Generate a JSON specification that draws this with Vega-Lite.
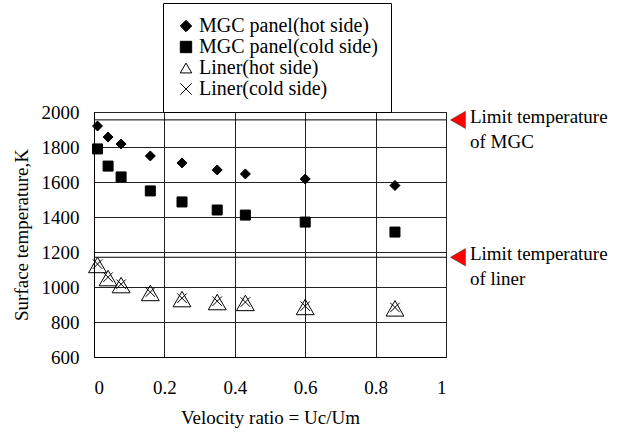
{
  "$schema": "https://vega.github.io/schema/vega-lite/v6.json",
  "width": 352,
  "height": 245,
  "autosize": {"type": "none"},
  "padding": {"left": 94, "top": 112, "right": 183, "bottom": 75},
  "background": "white",
  "config": {
    "font": "Liberation Serif",
    "view": {"stroke": "black", "strokeWidth": 1},
    "axis": {
      "labelFont": "Liberation Serif",
      "labelFontSize": 19,
      "labelColor": "black",
      "labelOverlap": false,
      "titleFont": "Liberation Serif",
      "titleFontSize": 19,
      "titleFontWeight": "normal",
      "titleColor": "black",
      "domainColor": "black",
      "gridColor": "#222",
      "gridOpacity": 1,
      "ticks": false
    },
    "legend": {
      "labelFont": "Liberation Serif",
      "labelFontSize": 20,
      "labelColor": "black",
      "labelLimit": 0
    }
  },
  "datasets": {
    "pts": [
      {"v": 0.01, "T": 1920, "series": "MGC panel(hot side)"},
      {"v": 0.04, "T": 1857, "series": "MGC panel(hot side)"},
      {"v": 0.077, "T": 1817, "series": "MGC panel(hot side)"},
      {"v": 0.16, "T": 1749, "series": "MGC panel(hot side)"},
      {"v": 0.25, "T": 1709, "series": "MGC panel(hot side)"},
      {"v": 0.35, "T": 1669, "series": "MGC panel(hot side)"},
      {"v": 0.43, "T": 1646, "series": "MGC panel(hot side)"},
      {"v": 0.6, "T": 1617, "series": "MGC panel(hot side)"},
      {"v": 0.855, "T": 1580, "series": "MGC panel(hot side)"},
      {"v": 0.01, "T": 1789, "series": "MGC panel(cold side)"},
      {"v": 0.04, "T": 1691, "series": "MGC panel(cold side)"},
      {"v": 0.077, "T": 1629, "series": "MGC panel(cold side)"},
      {"v": 0.16, "T": 1549, "series": "MGC panel(cold side)"},
      {"v": 0.25, "T": 1486, "series": "MGC panel(cold side)"},
      {"v": 0.35, "T": 1440, "series": "MGC panel(cold side)"},
      {"v": 0.43, "T": 1411, "series": "MGC panel(cold side)"},
      {"v": 0.6, "T": 1371, "series": "MGC panel(cold side)"},
      {"v": 0.855, "T": 1314, "series": "MGC panel(cold side)"},
      {"v": 0.01, "T": 1126, "series": "Liner(hot side)"},
      {"v": 0.04, "T": 1051, "series": "Liner(hot side)"},
      {"v": 0.077, "T": 1011, "series": "Liner(hot side)"},
      {"v": 0.16, "T": 966, "series": "Liner(hot side)"},
      {"v": 0.25, "T": 931, "series": "Liner(hot side)"},
      {"v": 0.35, "T": 914, "series": "Liner(hot side)"},
      {"v": 0.43, "T": 909, "series": "Liner(hot side)"},
      {"v": 0.6, "T": 886, "series": "Liner(hot side)"},
      {"v": 0.855, "T": 878, "series": "Liner(hot side)"},
      {"v": 0.01, "T": 1131, "series": "Liner(cold side)"},
      {"v": 0.04, "T": 1056, "series": "Liner(cold side)"},
      {"v": 0.077, "T": 1016, "series": "Liner(cold side)"},
      {"v": 0.16, "T": 971, "series": "Liner(cold side)"},
      {"v": 0.25, "T": 936, "series": "Liner(cold side)"},
      {"v": 0.35, "T": 919, "series": "Liner(cold side)"},
      {"v": 0.43, "T": 914, "series": "Liner(cold side)"},
      {"v": 0.6, "T": 891, "series": "Liner(cold side)"},
      {"v": 0.855, "T": 883, "series": "Liner(cold side)"}
    ],
    "limits": [
      {"T": 1955, "label": "Limit temperature\nof MGC"},
      {"T": 1170, "label": "Limit temperature\nof liner"}
    ]
  },
  "layer": [
    {
      "data": {"name": "pts"},
      "transform": [{"filter": "indexof(datum.series, 'MGC') === 0"}],
      "mark": {"type": "point", "strokeWidth": 1, "opacity": 1, "size": 100},
      "encoding": {
        "x": {
          "field": "v", "type": "quantitative",
          "scale": {"domain": [0, 1], "nice": false, "zero": false},
          "axis": {"values": [0, 0.2, 0.4, 0.6, 0.8, 1], "tickCount": 10, "format": "~g", "labelPadding": 21, "titlePadding": 11, "grid": true},
          "title": "Velocity ratio = Uc/Um"
        },
        "y": {
          "field": "T", "type": "quantitative",
          "scale": {"domain": [600, 2000], "nice": false, "zero": false},
          "axis": {"values": [600, 800, 1000, 1200, 1400, 1600, 1800, 2000], "tickCount": 10, "format": "d", "labelPadding": 15, "titlePadding": 10, "grid": true},
          "title": "Surface temperature,K"
        },
        "shape": {
          "field": "series", "type": "nominal",
          "scale": {
            "domain": ["MGC panel(hot side)", "MGC panel(cold side)", "Liner(hot side)", "Liner(cold side)"],
            "range": ["diamond", "square", "triangle-up", "M-1,-1L1,1M-1,1L1,-1"]
          },
          "legend": {
            "title": null, "orient": "none", "legendX": 69, "legendY": -109,
            "strokeColor": "black", "fillColor": "white", "padding": 13,
            "rowPadding": 1, "symbolStrokeWidth": 1, "symbolSize": 130, "labelOffset": 3
          }
        },
        "fill": {
          "field": "series", "type": "nominal",
          "scale": {
            "domain": ["MGC panel(hot side)", "MGC panel(cold side)", "Liner(hot side)", "Liner(cold side)"],
            "range": ["black", "black", "transparent", "transparent"]
          }
        },
        "stroke": {
          "field": "series", "type": "nominal",
          "scale": {
            "domain": ["MGC panel(hot side)", "MGC panel(cold side)", "Liner(hot side)", "Liner(cold side)"],
            "range": ["black", "black", "black", "black"]
          }
        }
      }
    },
    {
      "data": {"name": "pts"},
      "transform": [{"filter": "datum.series === 'Liner(hot side)'"}],
      "mark": {"type": "point", "strokeWidth": 1, "opacity": 1, "size": 320},
      "encoding": {
        "x": {"field": "v", "type": "quantitative"},
        "y": {"field": "T", "type": "quantitative"},
        "shape": {"field": "series", "type": "nominal"},
        "fill": {"field": "series", "type": "nominal"},
        "stroke": {"field": "series", "type": "nominal"}
      }
    },
    {
      "data": {"name": "pts"},
      "transform": [{"filter": "datum.series === 'Liner(cold side)'"}],
      "mark": {"type": "point", "strokeWidth": 1, "opacity": 1, "size": 90},
      "encoding": {
        "x": {"field": "v", "type": "quantitative"},
        "y": {"field": "T", "type": "quantitative"},
        "shape": {"field": "series", "type": "nominal"},
        "fill": {"field": "series", "type": "nominal"},
        "stroke": {"field": "series", "type": "nominal"}
      }
    },
    {
      "data": {"name": "limits"},
      "mark": {"type": "rule", "color": "black", "strokeWidth": 1},
      "encoding": {"y": {"field": "T", "type": "quantitative"}}
    },
    {
      "data": {"name": "limits"},
      "mark": {"type": "point", "shape": "triangle-left", "filled": true, "fill": "#ff0000", "stroke": "#333", "strokeWidth": 0.5, "size": 300, "opacity": 1},
      "encoding": {
        "x": {"datum": 1.034, "type": "quantitative"},
        "y": {"field": "T", "type": "quantitative"}
      }
    },
    {
      "data": {"name": "limits"},
      "mark": {"type": "text", "align": "left", "baseline": "top", "dy": -12, "font": "Liberation Serif", "fontSize": 19, "color": "black", "lineBreak": "\n", "lineHeight": 25},
      "encoding": {
        "x": {"datum": 1.068, "type": "quantitative"},
        "y": {"field": "T", "type": "quantitative"},
        "text": {"field": "label"}
      }
    }
  ]
}
